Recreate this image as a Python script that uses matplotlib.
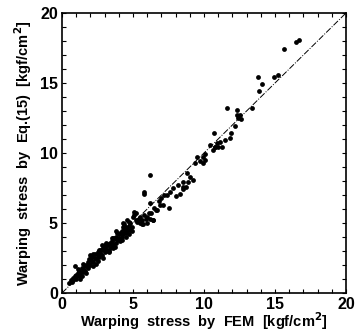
import matplotlib
matplotlib.use("Agg")
import matplotlib.pyplot as plt
from matplotlib.ticker import MultipleLocator

# FEM (x) vs Eq.(15) (y) warping stress, kgf/cm^2
fem_low = [0.5, 0.6, 0.7, 0.8, 0.8, 0.9, 1.0, 1.0, 1.1, 1.2, 1.2, 1.3, 1.3, 1.4, 1.5, 1.5,
           1.6, 1.6, 1.7, 1.8, 1.8, 1.9, 2.0, 2.0, 2.1, 2.1, 2.2, 2.3, 2.3, 2.4, 2.5, 2.5,
           2.6, 2.6, 2.7, 2.8, 2.8, 2.9, 3.0, 3.0, 3.1, 3.2, 3.2, 3.3, 3.4, 3.4, 3.5, 3.5,
           3.6, 3.7, 3.8, 3.8, 3.9, 4.0, 4.0, 4.1, 4.2, 4.2, 4.3, 4.4, 4.5, 4.5, 4.6, 4.7,
           4.8, 4.8, 4.9, 0.9, 1.4, 2.2, 2.7, 3.3, 3.6, 4.1, 4.6]
eq15_low = [0.7, 0.9, 0.8, 1.1, 0.9, 1.2, 1.0, 1.3, 1.4, 1.2, 1.6, 1.3, 1.5, 1.8, 1.5, 1.7,
            1.9, 1.6, 2.0, 1.8, 2.2, 2.1, 2.0, 2.4, 2.3, 2.6, 2.2, 2.5, 2.8, 2.4, 2.7, 2.9,
            2.6, 3.0, 2.8, 3.1, 2.7, 3.2, 2.9, 3.3, 3.0, 3.4, 3.1, 3.5, 3.2, 3.6, 3.4, 3.7,
            3.5, 3.9, 3.6, 4.0, 3.8, 4.2, 3.9, 4.3, 4.0, 4.4, 4.2, 4.5, 4.3, 4.7, 4.4, 4.8,
            4.5, 5.0, 4.7, 1.9, 1.2, 1.9, 3.1, 3.0, 3.9, 3.8, 4.6]

# extra scatter around the band at low stress
fem_extra = [1.1, 1.3, 1.7, 1.9, 2.2, 2.4, 2.6, 2.9, 3.1, 3.3, 3.5, 3.7, 3.9, 4.1, 4.3,
             4.5, 4.7, 4.9, 2.0, 2.5, 3.0, 3.6, 4.4, 1.5, 2.8, 3.8, 4.2, 4.7, 5.2, 5.6]
eq15_extra = [1.7, 1.0, 1.4, 2.4, 2.8, 2.1, 3.1, 2.5, 3.6, 2.9, 3.9, 3.3, 4.3, 3.7, 4.7,
              4.0, 5.1, 4.4, 2.7, 2.3, 3.4, 3.2, 4.9, 2.1, 3.4, 4.4, 3.8, 4.2, 5.7, 4.9]

fem_mid = [5.0, 5.1, 5.2, 5.3, 5.4, 5.5, 5.5, 5.6, 5.7, 5.8, 5.9, 6.0, 6.0, 6.1, 6.2, 6.3,
           6.4, 6.5, 6.6, 6.7, 6.8, 6.9, 7.0, 7.1, 7.2, 7.4, 7.5, 7.6, 7.8, 8.0, 8.2, 8.3,
           8.5, 8.5, 8.7, 8.8, 8.9, 9.0, 9.2, 6.2, 5.8, 5.8, 6.2, 8.5, 4.3, 4.6, 5.1, 6.4]
eq15_mid = [5.4, 5.6, 5.2, 5.1, 5.3, 5.4, 5.0, 5.2, 4.9, 5.6, 5.3, 5.4, 5.0, 5.7, 5.3, 5.7,
            5.2, 6.1, 5.9, 5.9, 6.6, 6.3, 6.8, 6.3, 7.0, 7.0, 6.1, 7.2, 7.5, 6.9, 7.7, 7.1,
            7.9, 7.4, 7.6, 8.6, 7.9, 8.3, 8.1, 8.4, 7.2, 7.1, 6.4, 7.6, 5.0, 5.2, 5.8, 5.2]

fem_high = [9.4, 9.5, 9.7, 9.9, 9.9, 10.1, 10.1, 10.4, 10.6, 10.7, 10.8, 10.8, 10.9, 11.0,
            11.1, 11.3, 11.5, 11.6, 11.8, 11.9, 12.2, 12.3, 12.3, 12.4, 12.5, 12.6, 13.4,
            13.8, 13.9, 14.1, 14.9, 15.2, 15.6, 16.5, 16.7]
eq15_high = [9.3, 9.7, 9.4, 9.7, 9.3, 9.9, 9.5, 10.6, 10.2, 11.4, 10.4, 10.4, 10.7, 10.4,
             10.8, 10.4, 10.9, 13.2, 11.1, 11.4, 11.9, 13.1, 12.7, 12.5, 12.7, 12.4, 13.2,
             15.4, 14.4, 14.9, 15.4, 15.6, 17.4, 17.9, 18.1]

fem = fem_low + fem_extra + fem_mid + fem_high
eq15 = eq15_low + eq15_extra + eq15_mid + eq15_high

plt.rcParams["font.family"] = ["Liberation Sans", "DejaVu Sans"]
plt.rcParams["font.weight"] = "bold"

fig = plt.figure(figsize=(3.56, 3.35), dpi=100)
ax = fig.add_axes([62 / 356, 42 / 335, 284 / 356, 280 / 335])

ax.plot([0, 20], [0, 20], color="black", lw=0.7, ls="-.")
ax.scatter(fem, eq15, s=12, color="black", linewidths=0)

ax.set_xlim(0, 20)
ax.set_ylim(0, 20)
ax.xaxis.set_major_locator(MultipleLocator(5))
ax.yaxis.set_major_locator(MultipleLocator(5))
ax.xaxis.set_minor_locator(MultipleLocator(1))
ax.yaxis.set_minor_locator(MultipleLocator(1))
ax.tick_params(which="both", direction="in", top=True, right=True, length=3, width=0.8,
               labelsize=11.5)
ax.tick_params(which="major", pad=3)
for s in ax.spines.values():
    s.set_linewidth(1.2)

ax.set_xlabel("Warping  stress  by  FEM  [kgf/cm$^\\mathbf{2}$]", fontsize=10.5,
              fontweight="bold", labelpad=-1)
ax.set_ylabel("Warping  stress  by  Eq.(15)  [kgf/cm$^\\mathbf{2}$]", fontsize=10.5,
              fontweight="bold", labelpad=4)

fig.savefig("out.png", dpi=100)
